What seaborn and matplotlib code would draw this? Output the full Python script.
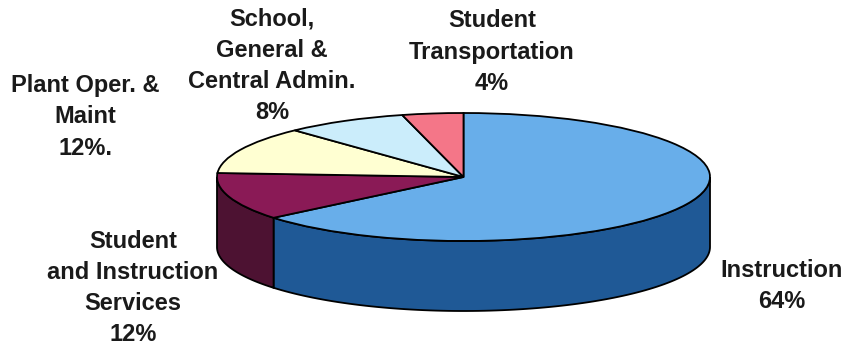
import numpy as np
import matplotlib.pyplot as plt
import seaborn as sns

plt.switch_backend('Agg')

# data (clockwise from 12 o'clock)
categories = ['Instruction', 'Student and Instruction Services', 'Plant Oper. & Maint',
              'School, General & Central Admin.', 'Student Transportation']
values = [64, 12, 12, 8, 4]
labels = ['Instruction\n64%', 'Student\nand Instruction\nServices\n12%', 'Plant Oper. &\nMaint\n12%.',
          'School,\nGeneral &\nCentral Admin.\n8%', 'Student\nTransportation\n4%']
top_colors = ['#68aeea', '#8a1a56', '#ffffd2', '#cbedfb', '#f47688']
side_colors = ['#1f5996', '#4d1232', '#c8c89a', '#8fb4c4', '#b04a5a']

sns.set_theme(style='white')
plt.rcParams['font.family'] = ['Liberation Sans', 'DejaVu Sans']

W, H = 846, 347
cx, cy, rx, ry, depth = 463.5, 177, 246.5, 64, 70

fig = plt.figure(figsize=(W / 100, H / 100), dpi=100)
ax = fig.add_axes([0, 0, 1, 1])


def wall(lo, hi, col):
    t = np.radians(np.linspace(lo, hi, 100))
    xs = np.concatenate([np.cos(t), np.cos(t[::-1])])
    ys = np.concatenate([np.sin(t), np.sin(t[::-1]) - depth / ry])
    ax.fill(xs, ys, facecolor=col, edgecolor='black', linewidth=1.3, zorder=1)


# side walls, only the front half (-180..0 deg) is visible
start = 90.0
for val, col in zip(values, side_colors):
    end = start - val * 3.6
    for shift in (0, 360):
        lo, hi = max(end + shift, -180.0), min(start + shift, 0.0)
        if hi > lo:
            wall(lo, hi, col)
    start = end

# top surface
ax.pie(values, colors=top_colors, startangle=90, counterclock=False, radius=1,
       wedgeprops=dict(edgecolor='black', linewidth=1.3, zorder=2))

ax.set_aspect('auto')
ax.set_xlim(-cx / rx, (W - cx) / rx)
ax.set_ylim((cy - H) / ry, cy / ry)
ax.axis('off')

# labels in pixel positions
label_pos = [(782, 286), (133, 288), (85, 117), (272, 66), (492, 52)]
for lab, (px, py) in zip(labels, label_pos):
    fig.text(px / W, 1 - py / H, lab, ha='center', va='center', fontsize=17,
             fontweight='bold', color='#1a1a1a', linespacing=1.46)

fig.savefig('out.png', dpi=100)
